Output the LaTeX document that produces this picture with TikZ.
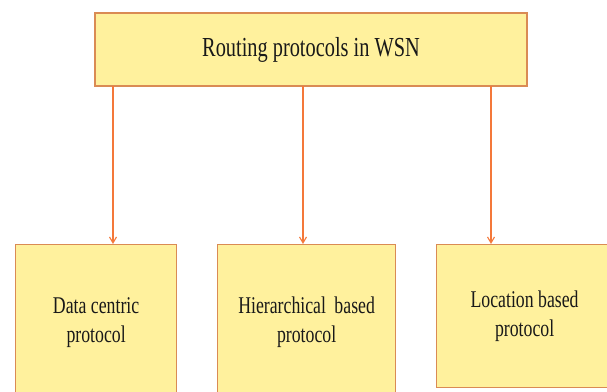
\documentclass[tikz,border=0pt]{standalone}
\usepackage{fontspec}
\setmainfont[FakeStretch=0.74]{Liberation Serif}
\usetikzlibrary{arrows.meta,positioning}
\definecolor{boxfill}{RGB}{255,241,157}
\definecolor{boxline}{RGB}{218,139,84}
\definecolor{arrowline}{RGB}{244,120,58}
\tikzset{
  protobox/.style={draw=boxline, fill=boxfill, line width=1.2pt, inner sep=0pt,
    align=center, text=black!90, font=\fontsize{24}{29}\selectfont},
  linkarrow/.style={-{Straight Barb[length=6pt, width=7pt]}, arrowline, line width=1.1pt}
}

\begin{document}
\begin{tikzpicture}[x=1pt, y=-1pt]
  % Fixed bounding box
  \path[use as bounding box] (0,0) rectangle (607,391);
  \clip (0,0) rectangle (607,391);

  % Root box
  \node[protobox, minimum width=432pt, minimum height=73pt,
    font=\fontsize{27.5}{32}\selectfont] (root) at (311,49.5) {Routing protocols in WSN};

  % Three protocol boxes
  \node[protobox, anchor=north west, minimum width=161pt, minimum height=156pt]
    (data) at (15,244) {Data centric\\protocol};
  \node[protobox, anchor=north west, minimum width=178pt, minimum height=156pt]
    (hier) at (217,244) {Hierarchical\, based\\protocol};
  \node[protobox, anchor=north west, minimum width=176pt, minimum height=143pt]
    (loc) at (436,244) {Location based\\protocol};

  % Arrows from the root box
  \coordinate (r1) at (113,86);
  \coordinate (r2) at (303,86);
  \coordinate (r3) at (491,86);
  \draw[linkarrow] (r1) -- (r1 |- data.north);
  \draw[linkarrow] (r2) -- (r2 |- hier.north);
  \draw[linkarrow] (r3) -- (r3 |- loc.north);
\end{tikzpicture}
\end{document}
